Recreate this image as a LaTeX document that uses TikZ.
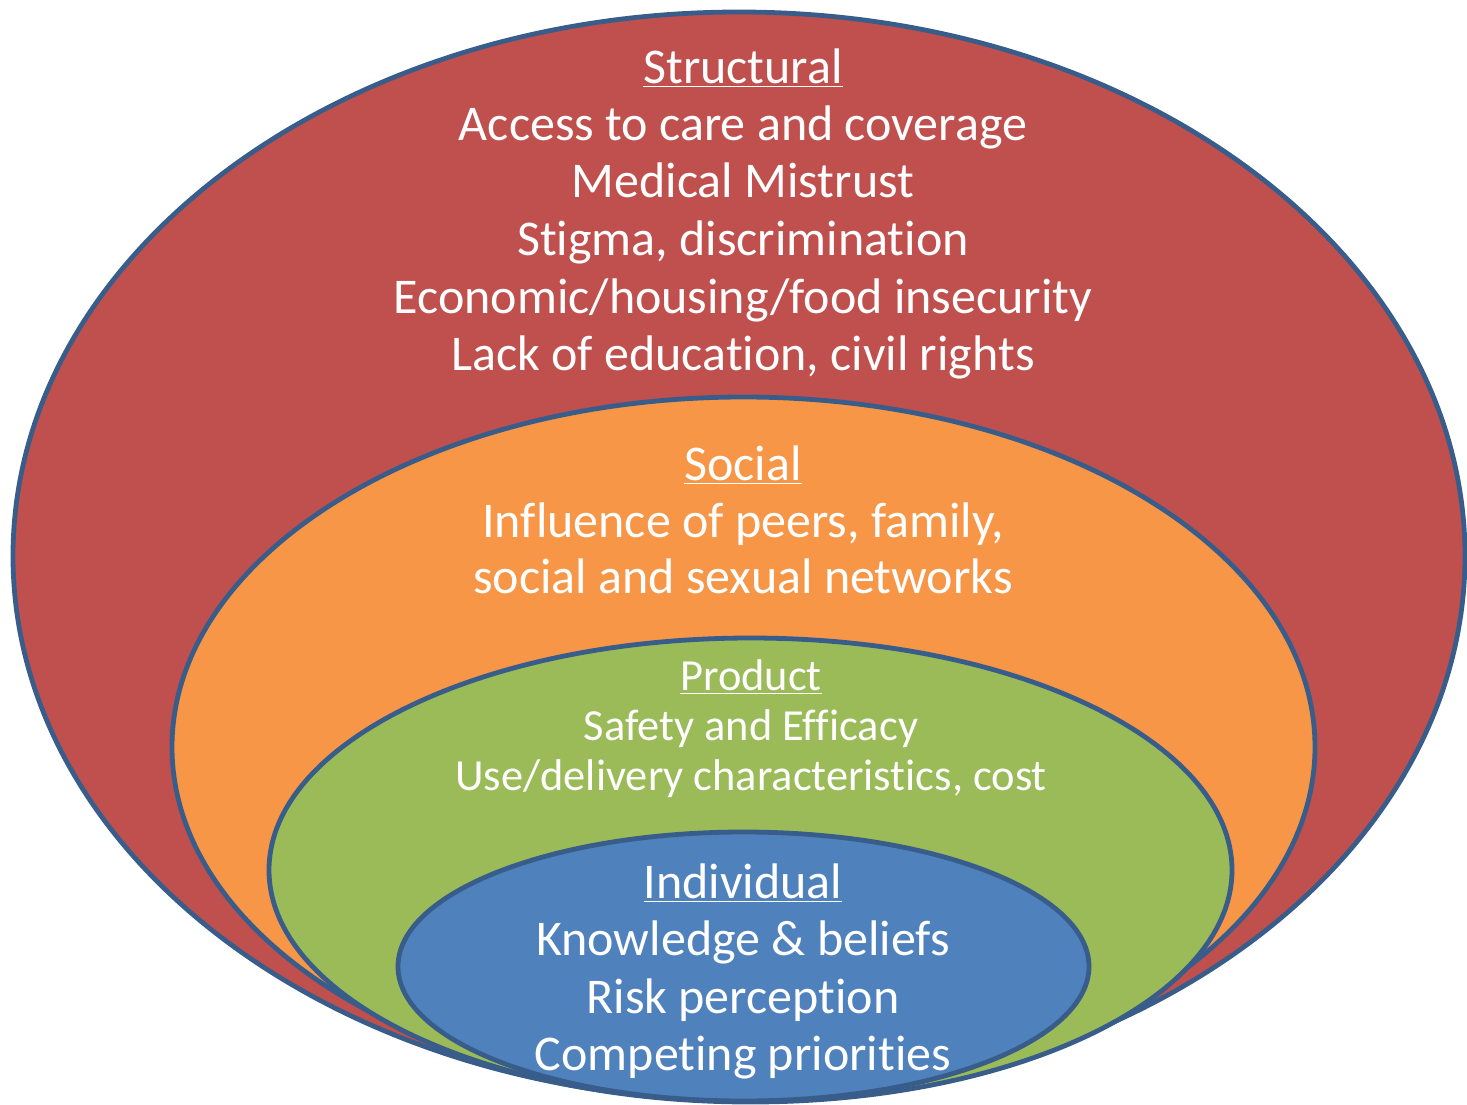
\documentclass[tikz,border=0pt]{standalone}
\usepackage{fontspec}
\setmainfont[RawFeature={-liga;-clig;-dlig}]{Carlito}
\definecolor{rimblue}{HTML}{385D8A}
\definecolor{structred}{HTML}{C0504D}
\definecolor{socialorange}{HTML}{F79646}
\definecolor{productgreen}{HTML}{9BBB59}
\definecolor{indivblue}{HTML}{4F81BD}
% heading with a thick underline
\newcommand{\headline}[1]{\setbox0=\hbox{#1}\rlap{\rule[-2.2pt]{\wd0}{0.9pt}}\box0}

\begin{document}
\begin{tikzpicture}[
		x=0.5pt,y=-0.5pt,
		layer/.style={draw=rimblue,line width=2.4pt},
		lab/.style={text=white,inner sep=0pt,anchor=base},
		big/.style={lab,font=\fontsize{25}{30}\selectfont},
		small/.style={lab,font=\fontsize{22.2}{26}\selectfont}
		]
		\useasboundingbox (0,0) rectangle (1467,1104);
		% ===== Nested ellipses =====
		\draw[layer,fill=structred] (739,556) ellipse [x radius=726, y radius=544];
		\draw[layer,fill=socialorange] (743.5,747) ellipse [x radius=571.5, y radius=350];
		\draw[layer,fill=productgreen] (750.5,870) ellipse [x radius=481.5, y radius=232];
		\draw[layer,fill=indivblue] (743.5,966.5) ellipse [x radius=345.5, y radius=134.5];
		% ===== Structural =====
		\node[big] (structural) at (743,83) {\headline{Structural}};
		\node[big] (access) at (743,140) {Access to care and coverage};
		\node[big] (mistrust) at (743,197) {Medical Mistrust};
		\node[big] (stigma) at (743,255) {Stigma, discrimination};
		\node[big] (economic) at (743,313) {Economic/housing/food insecurity};
		\node[big] (education) at (743,370) {Lack of education, civil rights};
		% ===== Social =====
		\node[big] (social) at (743,480) {\headline{Social}};
		\node[big] (influence) at (743,537) {Influence of peers, family,};
		\node[big] (networks) at (743,593) {social and sexual networks};
		% ===== Product =====
		\node[small] (product) at (751,690) {\headline{Product}};
		\node[small] (safety) at (751,740) {Safety and Efficacy};
		\node[small] (delivery) at (751,790) {Use/delivery characteristics, cost};
		% ===== Individual =====
		\node[big] (individual) at (743,898) {\headline{Individual}};
		\node[big] (knowledge) at (743,955) {Knowledge \& beliefs};
		\node[big] (risk) at (743,1013) {Risk perception};
		\node[big] (priorities) at (743,1070) {Competing priorities};
	\end{tikzpicture}
\end{document}
